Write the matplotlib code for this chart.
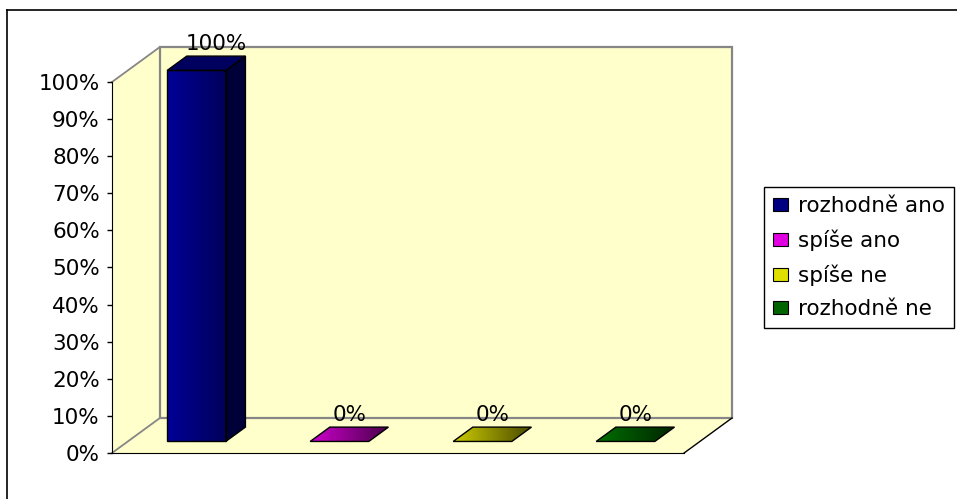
import matplotlib
matplotlib.use('Agg')
import matplotlib.pyplot as plt
from matplotlib.patches import Polygon, Rectangle
from matplotlib.lines import Line2D
from matplotlib.colors import LinearSegmentedColormap
from matplotlib.ticker import PercentFormatter
import numpy as np

categories = ['rozhodně ano', 'spíše ano', 'spíše ne', 'rozhodně ne']
values = [100, 0, 0, 0]
value_labels = ['100%', '0%', '0%', '0%']
yticks = [0, 10, 20, 30, 40, 50, 60, 70, 80, 90, 100]

# light / dark end of each bar's shading, plus the side face and legend swatch
front_colors = [('#000096', '#00005c'), ('#cc00cc', '#4a004a'),
                ('#cccc00', '#4a4a00'), ('#007000', '#002400')]
side_colors = ['#000038', '#400040', '#404000', '#002000']
legend_colors = ['#000080', '#e000e0', '#e0e000', '#006400']

# depth of the plot box and placement of the bars inside a slot
DX, DY = 0.335, 9.43
bar_front, bar_depth = 0.33, 0.41
bar_left, bar_width = 0.275, 0.41
WALL = '#ffffcc'
FS = 15.5

fig = plt.figure(figsize=(9.57, 4.99), dpi=100)
ax = fig.add_axes([112 / 957, 46 / 499, 620 / 957, 406 / 499])
ax.patch.set_visible(False)
n = len(categories)


def shade(pts, c0, c1, z):
    pts = np.asarray(pts)
    poly = Polygon(pts, closed=True, facecolor='none', edgecolor='black',
                   lw=1, zorder=z + 0.1, clip_on=False)
    ax.add_patch(poly)
    cmap = LinearSegmentedColormap.from_list('g', [c0, c1])
    grad = np.linspace(0, 1, 64).reshape(1, -1)
    im = ax.imshow(grad, cmap=cmap, aspect='auto', interpolation='bilinear',
                   extent=(pts[:, 0].min(), pts[:, 0].max(),
                           pts[:, 1].min(), pts[:, 1].max()), zorder=z)
    im.set_clip_path(poly)


# walls and floor
ax.add_patch(Polygon([(0, 0), (0, 100), (DX, 100 + DY), (DX, DY)],
                     facecolor=WALL, edgecolor='none', zorder=0, clip_on=False))
ax.add_patch(Polygon([(0, 0), (n, 0), (n + DX, DY), (DX, DY)],
                     facecolor=WALL, edgecolor='none', zorder=0, clip_on=False))
ax.add_patch(Rectangle((DX, DY), n, 100, facecolor=WALL, edgecolor='#868686',
                       lw=1.6, zorder=1, clip_on=False))
ax.plot([0, DX], [100, 100 + DY], color='#868686', lw=1.3, zorder=1, clip_on=False)
ax.plot([0, DX], [0, DY], color='#868686', lw=1.3, zorder=1, clip_on=False)
ax.plot([n, n + DX], [0, DY], color='black', lw=1, zorder=1, clip_on=False)

# bars
ddx, ddy = bar_depth * DX, bar_depth * DY
for i, (v, lab) in enumerate(zip(values, value_labels)):
    x0 = i + bar_left + bar_front * DX
    x1 = x0 + bar_width
    yb = bar_front * DY
    yt = yb + v
    z = 3 + i
    if v > 0:
        shade([(x0, yb), (x1, yb), (x1, yt), (x0, yt)], *front_colors[i], z)
        ax.add_patch(Polygon([(x1, yb), (x1 + ddx, yb + ddy), (x1 + ddx, yt + ddy), (x1, yt)],
                             facecolor=side_colors[i], edgecolor='black', lw=1,
                             zorder=z, clip_on=False))
        ax.add_patch(Polygon([(x0, yt), (x1, yt), (x1 + ddx, yt + ddy), (x0 + ddx, yt + ddy)],
                             facecolor='#00005e', edgecolor='black', lw=1,
                             zorder=z, clip_on=False))
        lx = (x0 + x1) / 2 + ddx
    else:
        shade([(x0, yt), (x1, yt), (x1 + ddx, yt + ddy), (x0 + ddx, yt + ddy)],
              *front_colors[i], z)
        lx = (x0 + x1) / 2 + ddx / 2
    ax.annotate(lab, xy=(lx, yt + ddy), xytext=(0, 1.5),
                textcoords='offset points', ha='center', va='bottom',
                fontsize=FS, zorder=10, annotation_clip=False)

ax.set_xlim(0, n + DX)
ax.set_ylim(0, 100 + DY)
for s in ['top', 'right']:
    ax.spines[s].set_visible(False)
ax.spines['left'].set_bounds(0, 100)
ax.spines['bottom'].set_bounds(0, n)
ax.spines['left'].set_zorder(2)
ax.spines['bottom'].set_zorder(2)
ax.set_xticks([])
ax.set_yticks(yticks)
ax.yaxis.set_major_formatter(PercentFormatter(xmax=100, decimals=0))
ax.tick_params(axis='y', direction='out', length=3.8, width=1, pad=5, labelsize=FS)

handles = [Rectangle((0, 0), 1, 1, facecolor=c, edgecolor='black', lw=0.8)
           for c in legend_colors]
leg = fig.legend(handles, categories, loc='upper left',
                 bbox_to_anchor=(764 / 957, 1 - 187 / 499), frameon=True,
                 fancybox=False, edgecolor='black', framealpha=1,
                 handlelength=0.7, handleheight=0.55, handletextpad=0.45,
                 labelspacing=0.62, borderpad=0.42, borderaxespad=0, fontsize=FS)
leg.get_frame().set_linewidth(1)

# outer chart border
fig.add_artist(Line2D([7 / 957, 1], [1 - 10 / 499] * 2, color='black', lw=1.2,
                      transform=fig.transFigure))
fig.add_artist(Line2D([7 / 957] * 2, [0, 1 - 10 / 499], color='black', lw=1.2,
                      transform=fig.transFigure))

fig.savefig('out.png', dpi=100)
